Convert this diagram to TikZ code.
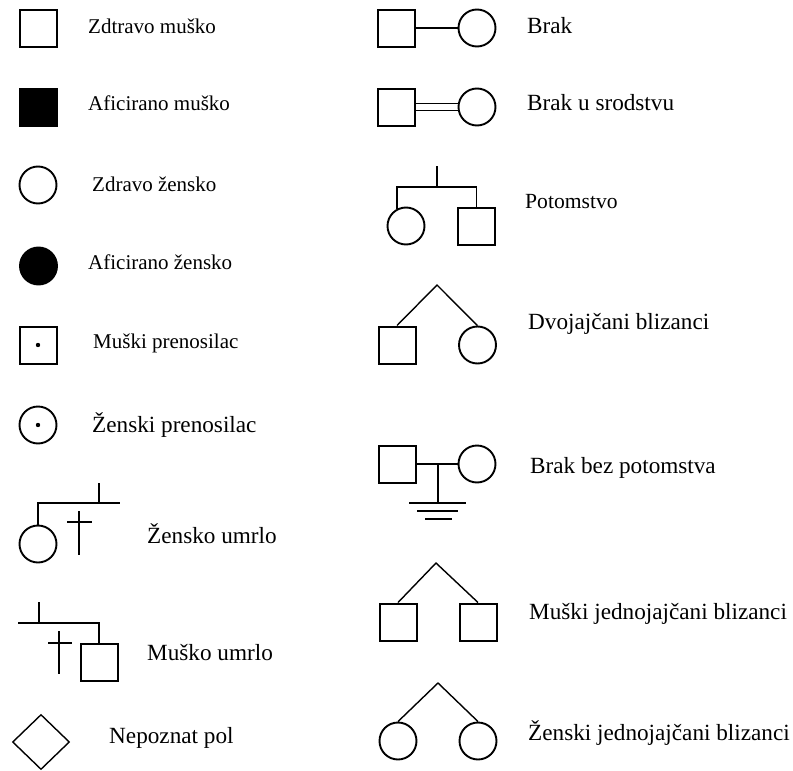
\documentclass[tikz,border=0pt]{standalone}
\usepackage{fontspec}
\setmainfont{Liberation Serif}
\usetikzlibrary{shapes.geometric}

\begin{document}
\begin{tikzpicture}[
    x=1pt, y=-1pt,
    male/.style={draw, line width=2pt, minimum size=37pt, inner sep=0pt},
    female/.style={draw, circle, line width=1.9pt, minimum size=37pt, inner sep=0pt},
    link/.style={line width=1.4pt},
    lbl/.style={anchor=base west, inner sep=0pt, font=\fontsize{21}{25}\selectfont},
    biglbl/.style={lbl, font=\fontsize{23.2}{27}\selectfont}
]
\useasboundingbox (0,0) rectangle (793,771);

% left column
\node[male] (zm) at (38,28) {};
\node[lbl] (zmt) at (88,34) {Zdtravo muško};

\node[male, fill=black] (am) at (38,107) {};
\node[lbl] (amt) at (88,110) {Aficirano muško};

\node[female] (zz) at (38,185) {};
\node[lbl] (zzt) at (92,191) {Zdravo žensko};

\node[female, fill=black] (az) at (38.5,266) {};
\node[lbl] (azt) at (88,269) {Aficirano žensko};

\node[male] (mp) at (38,345) {};
\fill (mp.center) circle (2.2pt);
\node[lbl] (mpt) at (93,348) {Muški prenosilac};

\node[female] (zp) at (38,425) {};
\fill (zp.center) circle (2.2pt);
\node[biglbl] (zpt) at (92,432) {Ženski prenosilac};

% deceased female
\node[female] (zu) at (38,544) {};
\coordinate (zue) at (120,503);
\coordinate (zub) at (99,503);
\coordinate (zut) at (99,483);
\draw[link] (zu.north) |- (zue);
\draw[link] (zub) -- (zut);
\draw[link] (79,511) -- (79,555);
\draw[link] (67,522) -- (92,522);
\node[biglbl] (zuo) at (147,543) {Žensko umrlo};

% deceased male
\node[male] (mu) at (99,662) {};
\coordinate (mue) at (18,623);
\coordinate (mub) at (39,623);
\coordinate (mut) at (39,602);
\draw[link] (mu.north) |- (mue);
\draw[link] (mub) -- (mut);
\draw[link] (59,631) -- (59,674);
\draw[link] (48,643) -- (72,643);
\node[biglbl] (muo) at (147,660) {Muško umrlo};

\node[diamond, draw, line width=1.4pt, minimum width=57pt, minimum height=55pt, inner sep=0pt] (np) at (41,742) {};
\node[biglbl] (npt) at (109,743) {Nepoznat pol};

% right column
\node[male] (bm) at (396,28) {};
\node[female] (bf) at (477,28) {};
\draw[link] (bm) -- (bf);
\node[biglbl] (bt) at (527,33) {Brak};

\node[male] (sm) at (396,107) {};
\node[female] (sf) at (477,107) {};
\draw[link] ([yshift=-3.5pt]sm.east) -- ([yshift=-3.5pt]sf.west);
\draw[link] ([yshift=3.5pt]sm.east) -- ([yshift=3.5pt]sf.west);
\node[biglbl] (st) at (527,110) {Brak u srodstvu};

% offspring
\node[female] (pf) at (406,226) {};
\node[male] (pm) at (476.5,226) {};
\coordinate (pbar) at (437,187);
\coordinate (ptop) at (437,166);
\draw[link] (pf.118) |- (pbar) -| (pm.north);
\draw[link] (pbar) -- (ptop);
\node[lbl, font=\fontsize{21.6}{26}\selectfont] (pt) at (525,208) {Potomstvo};

% twins
\coordinate (da) at (437,285);
\node[male] (dm) at (397,345) {};
\node[female] (df) at (477.5,345) {};
\draw[link] (dm.north) -- (da) -- (df.north);
\node[biglbl] (dt) at (528,329) {Dvojajčani blizanci};

% childless couple
\node[male] (cm) at (397,464) {};
\node[female] (cf) at (477,464) {};
\coordinate (cg) at (438,503);
\draw[link] (cm) -- (cf);
\draw[link] (438,464) -- (cg);
\draw[link] (409,503) -- (466,503);
\draw[link] (417,511) -- (458,511);
\draw[link] (425,519) -- (452,519);
\node[biglbl] (ct) at (530,473) {Brak bez potomstva};

\coordinate (ma) at (436,563);
\node[male] (mm1) at (398,622) {};
\node[male] (mm2) at (478,622) {};
\draw[link] (mm1.north) -- (ma) -- (mm2.north);
\node[biglbl] (mt) at (529,619) {Muški jednojajčani blizanci};

\coordinate (fa) at (438,683);
\node[female] (ff1) at (398,741) {};
\node[female] (ff2) at (478,741) {};
\draw[link] (ff1.north) -- (fa) -- (ff2.north);
\node[biglbl] (ft) at (528,740) {Ženski jednojajčani blizanci};

\end{tikzpicture}
\end{document}
